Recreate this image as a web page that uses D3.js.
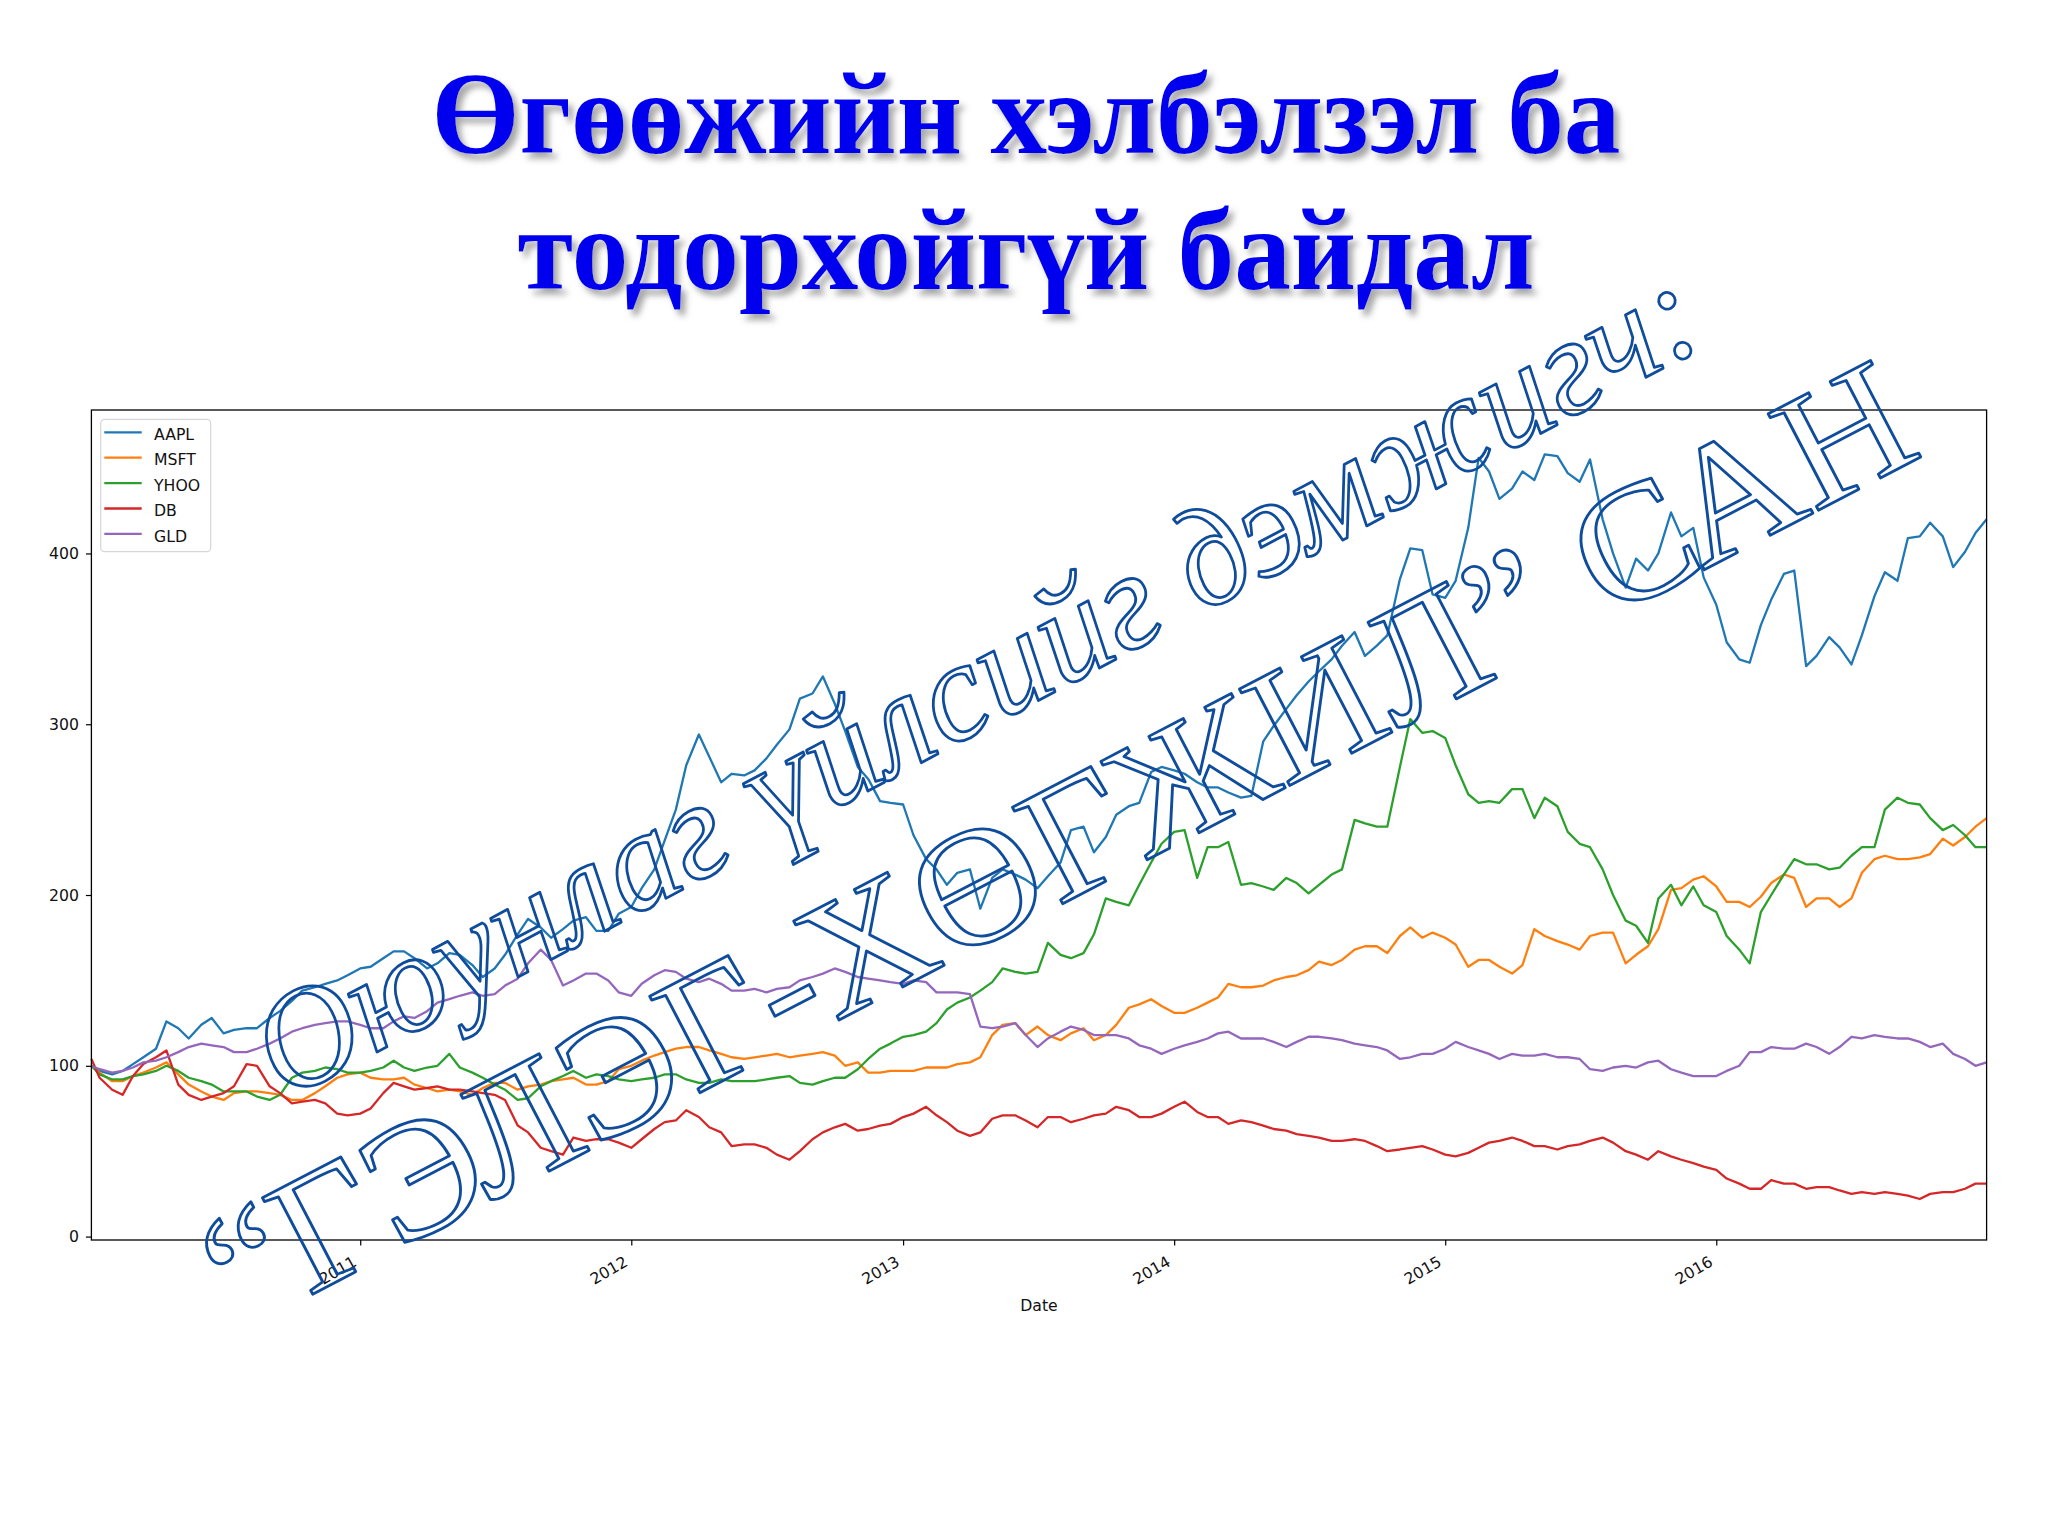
<!DOCTYPE html>
<html>
<head>
<meta charset="utf-8">
<script src="https://cdn.jsdelivr.net/npm/d3@7"></script>
<style>
  body { margin: 0; background: #fff; }
  svg { display: block; }
</style>
</head>
<body>
<div id="chart"></div>
<script>
/* Series, normalised to 100 at the start, two points a month */
var seriesNames = ["AAPL", "MSFT", "YHOO", "DB", "GLD"];
var seriesColors = ["#1f77b4", "#ff7f0e", "#2ca02c", "#d62728", "#9467bd"];

var aapl = [100,97,95,97,101,105,110,126,122,116,124,128,119,121,122,122,128,132,138,144,146,148,150,153,157,158,163,167,167,
  163,157,160,166,165,159,152,157,165,177,186,181,175,180,185,187,179,179,189,193,204,215,232,250,276,294,281,266,
  271,270,273,280,288,297,315,318,328,312,296,275,268,255,254,253,235,221,215,206,213,215,192,210,215,212,209,204,
  211,219,238,240,225,234,247,252,254,272,275,273,271,266,263,263,260,257,258,290,299,309,317,325,331,338,346,354,
  340,346,352,385,403,402,376,374,384,415,456,448,432,438,448,443,458,457,447,442,455,420,400,380,397,390,400,424,
  410,415,386,370,348,338,336,358,373,388,390,334,340,351,345,335,352,375,389,384,409,410,418,410,392,401,412,420];

var msft = [100,96,91,91,94,96,99,102,95,89,85,82,80,84,85,85,84,83,80,80,84,88,93,95,96,93,92,92,93,
  89,87,85,86,85,83,87,90,90,86,88,89,91,92,93,89,89,91,98,100,103,106,108,110,111,111,109,107,
  105,104,105,106,107,105,106,107,108,106,100,102,96,96,97,97,97,99,99,99,101,102,105,118,124,125,118,123,
  118,115,119,122,115,118,124,134,136,139,135,131,131,134,137,140,148,146,146,147,150,152,153,156,161,159,162,168,
  170,170,166,176,181,175,178,175,171,158,162,162,158,154,159,180,176,173,171,168,176,178,178,160,165,170,180,203,
  204,209,211,205,196,196,193,199,207,212,210,193,198,198,193,198,213,221,223,221,221,222,224,233,229,234,240,245];

var yhoo = [100,95,92,92,94,95,97,100,97,93,91,89,85,85,85,82,80,83,93,96,97,99,98,96,96,97,99,103,99,
  97,99,100,107,99,96,93,89,86,80,81,88,91,94,97,93,95,94,92,91,92,93,95,95,92,90,90,92,
  91,91,91,92,93,94,90,89,91,93,93,98,104,110,113,117,118,120,125,133,137,140,144,149,157,155,154,155,
  172,165,163,166,177,198,196,194,206,219,230,237,238,210,228,228,231,206,207,205,203,210,207,201,206,212,215,244,
  242,240,240,275,303,295,296,292,276,259,254,255,254,262,262,245,257,252,237,230,228,215,200,185,182,172,198,206,
  194,205,194,190,176,168,160,190,200,212,221,218,218,215,216,223,228,228,250,257,254,253,245,238,241,235,228,228];

var db = [104,93,86,83,94,101,105,109,89,83,80,82,84,88,101,100,88,84,78,79,80,78,72,71,72,75,84,90,88,
  86,87,88,86,86,85,84,83,80,65,61,52,50,48,58,56,57,57,55,52,57,63,67,68,74,70,64,61,
  53,54,54,52,48,45,50,57,61,64,66,62,63,65,66,70,72,76,71,67,62,59,61,69,71,71,68,64,
  70,70,67,69,71,72,76,74,70,70,72,76,79,73,70,70,66,68,67,65,63,62,60,59,58,56,56,57,
  56,53,50,51,52,53,51,48,47,49,52,55,56,58,56,53,53,51,53,54,56,58,55,50,48,45,50,47,
  45,43,41,39,34,31,28,28,33,31,31,28,29,29,27,25,26,25,26,25,24,22,25,26,26,28,31,31];

var gld = [100,98,96,97,99,102,103,105,108,111,113,112,111,108,108,110,113,116,120,122,124,125,126,126,124,122,122,126,129,
  128,132,137,139,141,143,141,142,147,151,160,168,162,147,150,154,154,150,143,141,148,153,156,155,151,149,151,148,
  144,144,145,143,145,146,150,152,154,157,155,152,151,150,149,148,150,149,143,143,143,142,123,122,123,125,118,111,
  116,120,123,121,118,118,118,116,112,110,107,110,112,114,116,119,120,116,116,116,114,111,114,117,117,116,115,113,
  112,111,109,104,105,107,107,110,114,111,109,107,104,107,106,106,107,105,105,104,98,97,99,100,99,102,103,98,
  96,94,94,94,97,100,108,108,111,110,110,113,111,107,111,117,116,118,117,116,116,114,111,113,107,104,100,102];

var seriesValues = [aapl, msft, yhoo, db, gld];

var firstDate = "2010-01-04", lastDate = "2016-12-30";
var yearTicks = ["2011", "2012", "2013", "2014", "2015", "2016"];
var yTicks = [0, 100, 200, 300, 400];
var yLimits = [-2, 484];

var titleLines = ["Өгөөжийн хэлбэлзэл ба", "тодорхойгүй байдал"];
var watermarkLines = ["Оюунлаг үйлсийг дэмжигч:", "\u201CГЭЛЭГ-ХӨГЖИЛ\u201D САН"];

/* dates: first trading day, then the 1st and 15th of each month, then the last day */
var parseDate = d3.timeParse("%Y-%m-%d");
var dates = [parseDate(firstDate), parseDate("2010-01-15")];
d3.timeMonth.range(parseDate("2010-02-01"), parseDate("2017-01-01")).forEach(function(m) {
  dates.push(m);
  dates.push(d3.timeDay.offset(m, 14));
});
dates.push(parseDate(lastDate));

/* Set the dimensions of the page and plot */
var width = 2048, height = 1536;
var plot = {left: 91.4, right: 1986.6, top: 410, bottom: 1240};

var svg = d3.select("#chart").append("svg").attr("width", width).attr("height", height);
svg.append("rect").attr("width", width).attr("height", height).attr("fill", "#fff");

var x = d3.scaleTime()
    .domain([parseDate(firstDate), parseDate(lastDate)])
    .range([plot.left, plot.right]);

var y = d3.scaleLinear()
    .domain(yLimits)
    .range([plot.bottom, plot.top]);

var tickFont = "'DejaVu Sans', sans-serif";

/* Title */
var defs = svg.append("defs");
var shadow = defs.append("filter").attr("id", "shadow")
    .attr("x", "-5%").attr("y", "-30%").attr("width", "115%").attr("height", "170%");
shadow.append("feDropShadow")
    .attr("dx", 5).attr("dy", 6).attr("stdDeviation", 3)
    .attr("flood-color", "#808080").attr("flood-opacity", 0.7);

var titleY = [153, 289], titleW = [1189, 1017];
svg.append("g")
    .attr("filter", "url(#shadow)")
  .selectAll("text")
  .data(titleLines)
  .enter().append("text")
    .attr("x", 1026)
    .attr("y", function(d, i) { return titleY[i]; })
    .attr("text-anchor", "middle")
    .attr("font-family", "'Liberation Serif', 'Times New Roman', serif")
    .attr("font-weight", "bold")
    .attr("font-size", 116)
    .attr("textLength", function(d, i) { return titleW[i]; })
    .attr("lengthAdjust", "spacingAndGlyphs")
    .attr("fill", "#0000ee")
    .text(function(d) { return d; });

/* Lines */
var line = d3.line()
    .x(function(d) { return x(d[0]); })
    .y(function(d) { return y(d[1]); });

svg.append("g")
  .selectAll("path")
  .data(seriesValues)
  .enter().append("path")
    .attr("fill", "none")
    .attr("stroke", function(d, i) { return seriesColors[i]; })
    .attr("stroke-width", 2.3)
    .attr("stroke-linejoin", "round")
    .attr("d", function(vals) { return line(dates.map(function(dt, j) { return [dt, vals[j]]; })); });

/* Axes */
var yearDates = yearTicks.map(function(s) { return parseDate(s + "-01-01"); });

var xAxis = svg.append("g")
    .attr("transform", "translate(0," + plot.bottom + ")")
    .call(d3.axisBottom(x).tickValues(yearDates).tickSize(5.5).tickFormat(d3.timeFormat("%Y")));
xAxis.select(".domain").remove();
xAxis.selectAll("line").attr("stroke", "#000").attr("stroke-width", 1.2);
xAxis.selectAll("text")
    .attr("font-family", tickFont)
    .attr("font-size", 15.7)
    .attr("fill", "#111")
    .attr("text-anchor", "end")
    .attr("x", -3).attr("y", 25).attr("dy", null)
    .attr("transform", "rotate(-30,-3,25)");

var yAxis = svg.append("g")
    .attr("transform", "translate(" + plot.left + ",0)")
    .call(d3.axisLeft(y).tickValues(yTicks).tickSize(5.5));
yAxis.select(".domain").remove();
yAxis.selectAll("line").attr("stroke", "#000").attr("stroke-width", 1.2);
yAxis.selectAll("text")
    .attr("font-family", tickFont)
    .attr("font-size", 15.7)
    .attr("fill", "#111")
    .attr("x", -12.5);

svg.append("rect")
    .attr("x", plot.left).attr("y", plot.top)
    .attr("width", plot.right - plot.left).attr("height", plot.bottom - plot.top)
    .attr("fill", "none").attr("stroke", "#000").attr("stroke-width", 1.3);

svg.append("text")
    .attr("x", (plot.left + plot.right) / 2)
    .attr("y", 1311)
    .attr("text-anchor", "middle")
    .attr("font-family", tickFont)
    .attr("font-size", 15.7)
    .attr("fill", "#111")
    .text("Date");

/* Legend */
var legend = svg.append("g").attr("class", "legend");
legend.append("rect")
    .attr("x", 100.7).attr("y", 419.3)
    .attr("width", 110).attr("height", 132.4)
    .attr("rx", 4)
    .attr("fill", "#fff").attr("fill-opacity", 0.8)
    .attr("stroke", "#d6d6d6").attr("stroke-width", 1.2);

var entry = legend.selectAll("g.entry")
    .data(seriesNames)
  .enter().append("g")
    .attr("class", "entry")
    .attr("transform", function(d, i) { return "translate(0," + (432.3 + i * 25.4) + ")"; });
entry.append("line")
    .attr("x1", 104.3).attr("x2", 141.7)
    .attr("stroke", function(d, i) { return seriesColors[i]; })
    .attr("stroke-width", 2.3);
entry.append("text")
    .attr("x", 154).attr("y", 7.6)
    .attr("font-family", tickFont)
    .attr("font-size", 15.7)
    .attr("fill", "#111")
    .text(function(d) { return d; });

/* Watermark, outlined text over the chart */
var wmSpec = [
  {x: 285, y: 1101, angle: -28, size: 141, len: 1615, italic: true},
  {x: 240, y: 1332, angle: -27.5, size: 166, len: 1900, italic: false}
];
svg.append("g")
    .attr("fill", "none")
    .attr("stroke", "#0f4c9c")
    .attr("stroke-width", 2.8)
    .attr("stroke-linejoin", "round")
  .selectAll("text")
  .data(watermarkLines)
  .enter().append("text")
    .attr("transform", function(d, i) { var s = wmSpec[i]; return "translate(" + s.x + "," + s.y + ") rotate(" + s.angle + ")"; })
    .attr("font-family", "'Liberation Serif', 'Times New Roman', serif")
    .attr("font-style", function(d, i) { return wmSpec[i].italic ? "italic" : "normal"; })
    .attr("font-size", function(d, i) { return wmSpec[i].size; })
    .attr("textLength", function(d, i) { return wmSpec[i].len; })
    .attr("lengthAdjust", "spacingAndGlyphs")
    .text(function(d) { return d; });
</script>
</body>
</html>
